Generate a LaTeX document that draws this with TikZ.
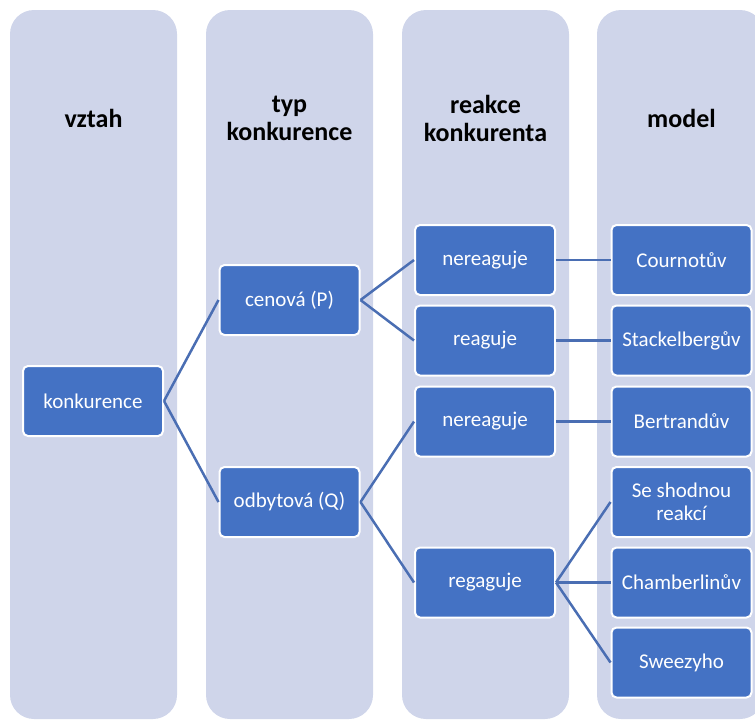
\documentclass[tikz,border=0pt]{standalone}
\usepackage{fontspec}
\setmainfont{Carlito}
\definecolor{colbg}{HTML}{CFD5EA}
\definecolor{boxfill}{HTML}{4472C4}
\definecolor{linkcol}{HTML}{4A6EB3}
\begin{document}
\begin{tikzpicture}[x=1pt,y=-1pt,
  column/.style={fill=colbg,draw=none,rounded corners=24pt},
  header/.style={font=\fontsize{26}{28}\selectfont\bfseries,align=center,text=black},
  item/.style={fill=boxfill,draw=white,line width=2pt,rounded corners=5pt,
    minimum width=140pt,minimum height=70pt,inner sep=2pt,text=white,
    font=\fontsize{21}{23}\selectfont,align=center},
  link/.style={draw=linkcol,line width=2.5pt}]
\useasboundingbox (0,0) rectangle (755,720);
\clip (0,0) rectangle (755,720);
\fill[column] (10,10) rectangle (177,719);
\fill[column] (206,10) rectangle (373,719);
\fill[column] (402,10) rectangle (569,719);
\fill[column] (597,10) rectangle (764,719);
\node[header] (h1) at (93.5,118) {vztah};
\node[header] (h2) at (289.5,118) {typ\\konkurence};
\node[header] (h3) at (485.5,118) {reakce\\konkurenta};
\node[header] (h4) at (681.5,118) {model};
\node[item] (k) at (93,401) {konkurence};
\node[item] (c) at (289.5,300) {cenová (P)};
\node[item] (o) at (289.5,502) {odbytová (Q)};
\node[item] (n1) at (485,260) {nereaguje};
\node[item] (r1) at (485,340.5) {reaguje};
\node[item] (n2) at (485,421.5) {nereaguje};
\node[item] (r2) at (485,582.5) {regaguje};
\node[item] (m1) at (681.5,260) {Cournotův};
\node[item] (m2) at (681.5,340.5) {Stackelbergův};
\node[item] (m3) at (681.5,421.5) {Bertrandův};
\node[item] (m4) at (681.5,502) {Se shodnou\\reakcí};
\node[item] (m5) at (681.5,582.5) {Chamberlinův};
\node[item] (m6) at (681.5,662.5) {Sweezyho};
\draw[link] (k.east) -- (c.west);
\draw[link] (k.east) -- (o.west);
\draw[link] (c.east) -- (n1.west);
\draw[link] (c.east) -- (r1.west);
\draw[link] (o.east) -- (n2.west);
\draw[link] (o.east) -- (r2.west);
\draw[link] (n1.east) -- (m1.west);
\draw[link] (r1.east) -- (m2.west);
\draw[link] (n2.east) -- (m3.west);
\draw[link] (r2.east) -- (m4.west);
\draw[link] (r2.east) -- (m5.west);
\draw[link] (r2.east) -- (m6.west);
\end{tikzpicture}
\end{document}
